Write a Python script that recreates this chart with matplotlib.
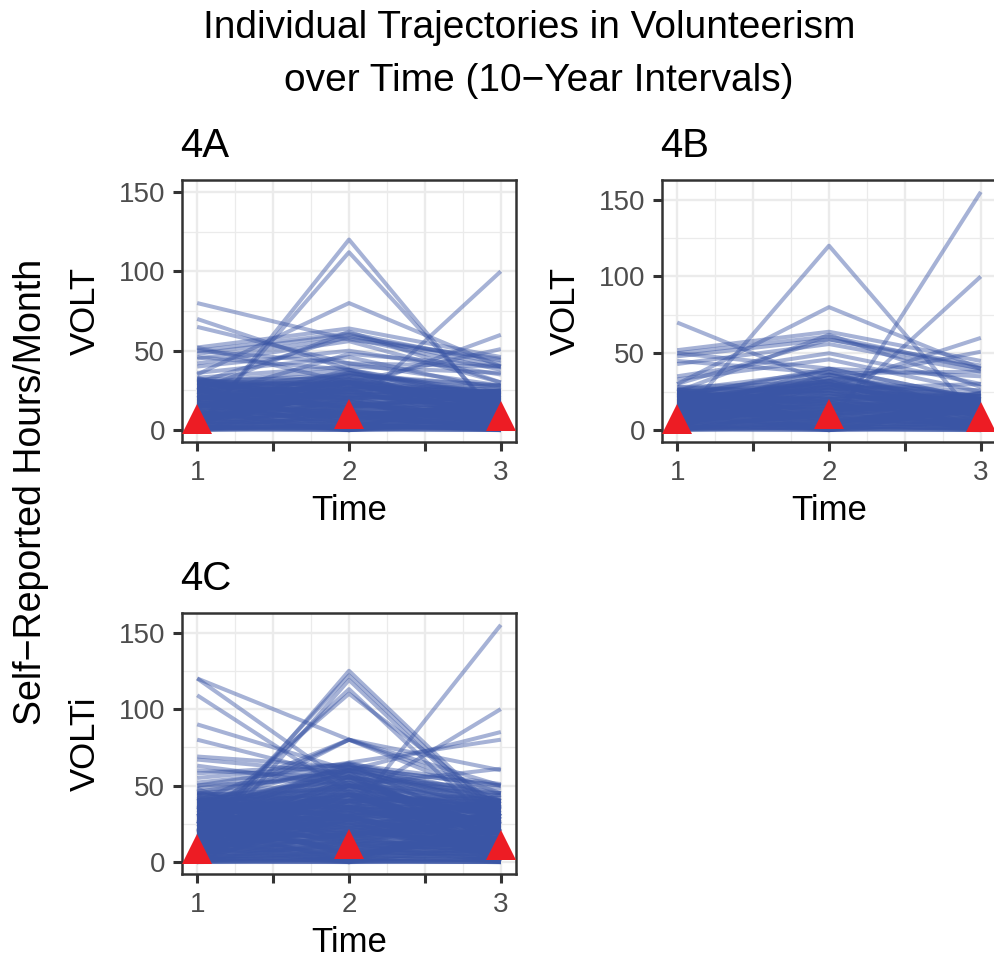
import matplotlib
matplotlib.use("Agg")
import matplotlib.pyplot as plt
from matplotlib.ticker import FixedLocator

plt.rcParams['font.family'] = ['Liberation Sans', 'DejaVu Sans']

# Time points
times = [1, 2, 3]

# Individual trajectories (VOLT at time 1, 2, 3)
# 4A: the few lines standing out above the dense band
traj_4a_high = [
    (80, 57, 45), (70, 38, 22), (65, 42, 28), (0, 120, 5), (2, 112, 8),
    (35, 80, 40), (10, 12, 100), (15, 25, 60), (20, 30, 51), (52, 64, 46),
    (50, 61, 42), (48, 60, 40), (45, 58, 38), (42, 56, 30), (40, 50, 35),
    (36, 46, 25), (52, 30, 20), (50, 42, 40), (46, 38, 20), (30, 59, 44),
    (25, 62, 30), (20, 48, 40), (33, 40, 36), (30, 35, 28),
]
# 4A: dense band near zero
traj_4a_low = [
    (0, 0, 0), (0, 5, 0), (0, 10, 2), (0, 20, 5), (1, 3, 0), (2, 15, 10), (2, 0, 4),
    (3, 8, 12), (4, 25, 6), (4, 2, 15), (5, 12, 0), (5, 30, 8), (5, 6, 20), (6, 18, 3),
    (7, 0, 10), (8, 22, 14), (8, 10, 0), (9, 28, 18), (10, 4, 6), (10, 15, 22),
    (10, 35, 12), (11, 8, 2), (12, 20, 25), (12, 0, 8), (13, 26, 16), (14, 12, 4),
    (15, 32, 20), (15, 5, 10), (15, 18, 0), (16, 24, 24), (17, 10, 14), (18, 30, 6),
    (18, 2, 18), (19, 16, 10), (20, 34, 22), (20, 8, 2), (20, 22, 16), (21, 14, 8),
    (22, 28, 20), (22, 0, 12), (23, 20, 5), (24, 36, 24), (25, 10, 15), (25, 26, 0),
    (25, 16, 20), (26, 32, 10), (27, 6, 18), (28, 24, 12), (28, 14, 25), (29, 30, 4),
    (30, 20, 22), (30, 38, 15), (30, 12, 8), (31, 28, 20), (32, 22, 25), (0, 30, 15),
    (3, 36, 22), (6, 32, 18), (9, 0, 25), (14, 38, 2), (20, 26, 28), (24, 4, 0),
    (28, 34, 28), (32, 18, 5),
    (2, 2, 2), (4, 4, 4), (6, 6, 6), (8, 8, 8), (10, 10, 10), (12, 12, 12), (14, 14, 14),
    (16, 16, 16), (18, 18, 18), (20, 20, 20), (22, 22, 22), (24, 24, 24), (26, 26, 26),
    (28, 28, 20), (30, 30, 18), (1, 1, 0), (3, 3, 1), (5, 5, 3), (7, 7, 5), (9, 9, 7),
    (11, 11, 9), (13, 13, 11), (15, 15, 13), (17, 17, 15), (19, 19, 17), (21, 21, 19),
    (23, 23, 21), (25, 25, 23), (27, 27, 22), (29, 29, 16), (0, 12, 6), (12, 0, 6),
    (6, 24, 12), (24, 6, 12), (18, 30, 9), (30, 18, 3), (3, 27, 24), (27, 3, 21),
    (9, 33, 15), (33, 9, 7), (15, 21, 11), (21, 15, 17), (0, 2, 1), (1, 0, 2), (2, 1, 0),
    (16, 36, 20), (32, 32, 14), (26, 30, 24),
]
mean_4a = [7, 10.3, 8.6]

# 4B
traj_4b_high = [
    (70, 30, 20), (5, 120, 5), (30, 80, 40), (8, 0, 155), (10, 10, 100),
    (15, 28, 60), (20, 32, 51), (52, 64, 45), (50, 61, 40), (48, 59, 42),
    (43, 56, 38), (35, 50, 30), (33, 46, 25), (50, 40, 20), (45, 37, 38),
    (30, 59, 40), (25, 62, 28), (22, 40, 35), (28, 31, 22), (20, 27, 30),
]
traj_4b_low = [
    (0, 0, 0), (0, 6, 4), (0, 14, 0), (0, 24, 10), (1, 2, 18), (2, 10, 6), (2, 30, 12),
    (3, 4, 20), (4, 18, 2), (4, 0, 14), (5, 26, 8), (5, 8, 0), (6, 14, 16), (6, 32, 4),
    (7, 2, 22), (8, 20, 10), (8, 10, 18), (9, 28, 0), (10, 4, 12), (10, 16, 20),
    (10, 34, 6), (11, 0, 14), (12, 22, 2), (12, 12, 24), (13, 30, 10), (14, 6, 16),
    (14, 18, 0), (15, 26, 20), (15, 2, 8), (15, 36, 14), (16, 10, 4), (17, 22, 22),
    (18, 14, 12), (18, 32, 0), (19, 4, 18), (20, 24, 8), (20, 8, 24), (20, 18, 14),
    (21, 30, 2), (22, 12, 20), (22, 26, 10), (23, 0, 16), (24, 20, 6), (24, 34, 22),
    (25, 6, 12), (25, 16, 0), (25, 28, 18), (26, 38, 8), (27, 10, 24), (28, 24, 14),
    (18, 0, 6), (3, 20, 24), (7, 36, 16), (12, 40, 20), (16, 28, 26), (21, 4, 0),
    (23, 38, 12), (26, 18, 4), (9, 16, 10), (13, 8, 2),
    (2, 2, 2), (4, 4, 4), (6, 6, 6), (8, 8, 8), (10, 10, 10), (12, 12, 12), (14, 14, 14),
    (16, 16, 16), (18, 18, 18), (20, 20, 20), (22, 22, 20), (24, 24, 18), (26, 28, 16),
    (1, 1, 0), (3, 3, 1), (5, 5, 3), (7, 7, 5), (9, 9, 7), (11, 11, 9), (13, 13, 11),
    (15, 15, 13), (17, 17, 15), (19, 19, 17), (21, 21, 19), (23, 26, 21), (25, 30, 22),
    (0, 12, 6), (12, 0, 6), (6, 24, 12), (24, 6, 12), (18, 30, 9), (3, 27, 20),
    (9, 33, 15), (15, 21, 11), (21, 15, 17), (0, 2, 1), (1, 0, 2), (2, 1, 0),
    (16, 36, 20), (20, 32, 14),
]
mean_4b = [7.2, 10.5, 8.5]

# 4C
traj_4c_high = [
    (120, 80, 60), (120, 50, 30), (109, 45, 25), (90, 60, 40), (80, 55, 45),
    (69, 62, 50), (67, 58, 35), (63, 50, 40), (60, 55, 30), (58, 64, 40),
    (10, 125, 30), (15, 122, 28), (5, 119, 25), (20, 113, 20), (25, 110, 35),
    (30, 80, 50), (35, 80, 45), (40, 80, 40), (20, 30, 155), (30, 40, 100),
    (45, 60, 85), (50, 65, 80), (40, 50, 61), (55, 64, 51), (52, 62, 50),
    (48, 60, 45), (50, 55, 48), (45, 52, 38), (25, 65, 42), (30, 63, 36),
]
traj_4c_low = [
    (0, 0, 0), (0, 8, 3), (0, 20, 10), (0, 35, 18), (0, 50, 5), (1, 4, 25), (2, 12, 0),
    (2, 28, 14), (3, 45, 30), (3, 6, 8), (4, 18, 22), (4, 40, 2), (5, 0, 12), (5, 24, 35),
    (5, 55, 20), (6, 10, 6), (6, 32, 28), (7, 2, 16), (7, 48, 4), (8, 14, 38), (8, 26, 10),
    (9, 38, 24), (9, 6, 0), (10, 20, 32), (10, 52, 14), (10, 0, 26), (11, 30, 8),
    (11, 16, 40), (12, 44, 18), (12, 8, 2), (13, 22, 30), (13, 36, 12), (14, 2, 22),
    (14, 58, 6), (15, 28, 36), (15, 12, 16), (15, 46, 0), (16, 18, 28), (16, 34, 10),
    (17, 4, 20), (17, 50, 34), (18, 26, 4), (18, 40, 24), (19, 10, 14), (19, 60, 38),
    (20, 32, 0), (20, 16, 30), (20, 54, 18), (21, 2, 8), (21, 42, 26), (22, 22, 40),
    (22, 36, 12), (23, 8, 22), (23, 62, 32), (24, 30, 2), (24, 46, 16), (25, 14, 28),
    (25, 56, 10), (25, 0, 36), (26, 38, 20), (26, 24, 6), (27, 50, 30), (27, 6, 14),
    (28, 34, 24), (28, 18, 0), (29, 60, 38), (29, 44, 10), (30, 12, 32), (30, 28, 18),
    (30, 52, 4), (31, 40, 26), (31, 20, 12), (32, 56, 36), (32, 4, 22), (33, 32, 8),
    (33, 48, 30), (34, 16, 16), (34, 62, 40), (35, 26, 2), (35, 42, 24), (36, 10, 34),
    (36, 58, 14), (37, 36, 20), (37, 22, 6), (38, 50, 28), (38, 30, 38), (39, 14, 10),
    (39, 64, 18), (40, 44, 32), (40, 24, 0), (41, 54, 22), (42, 34, 12), (43, 18, 26),
    (44, 46, 36), (45, 28, 16), (46, 60, 30),
    (2, 2, 2), (4, 4, 4), (6, 6, 6), (8, 8, 8), (10, 10, 10), (12, 12, 12), (14, 14, 14),
    (16, 16, 16), (18, 18, 18), (20, 20, 20), (22, 22, 22), (24, 24, 24), (26, 26, 26),
    (28, 28, 28), (30, 30, 30), (32, 32, 32), (34, 34, 34), (36, 36, 36), (38, 38, 38),
    (40, 40, 40), (42, 44, 36), (44, 48, 30), (1, 1, 0), (3, 3, 1), (5, 5, 3), (7, 7, 5),
    (9, 9, 7), (11, 11, 9), (13, 13, 11), (15, 15, 13), (17, 17, 15), (19, 19, 17),
    (21, 21, 19), (23, 23, 21), (25, 25, 23), (27, 27, 25), (29, 29, 27), (31, 31, 29),
    (33, 33, 31), (35, 35, 33), (37, 37, 35), (39, 39, 37), (41, 42, 39), (0, 14, 7),
    (14, 0, 7), (7, 28, 14), (28, 7, 14), (21, 42, 21), (42, 21, 14), (4, 36, 28),
    (36, 4, 20), (12, 48, 24), (48, 12, 8), (18, 30, 40), (30, 18, 44), (24, 52, 34),
    (45, 40, 42), (10, 56, 20), (35, 58, 26), (26, 60, 12), (0, 2, 1), (1, 0, 2),
    (2, 1, 0), (0, 0, 0), (5, 45, 10), (40, 30, 5), (15, 50, 45), (30, 44, 2),
    (44, 36, 24), (8, 40, 44),
]
mean_4c = [8.7, 12.1, 11.4]

panels = [
    ("4A", "VOLT", traj_4a_low + traj_4a_high, mean_4a, (-7.5, 157.5)),
    ("4B", "VOLT", traj_4b_low + traj_4b_high, mean_4b, (-7.75, 162.75)),
    ("4C", "VOLTi", traj_4c_low + traj_4c_high, mean_4c, (-7.75, 162.75)),
]

line_color = "#3A55A5"
mean_color = "#ED1C24"
grid_color = "#EBEBEB"
frame_color = "#333333"

W, H = 995, 961
fig = plt.figure(figsize=(W / 100, H / 100), dpi=100)

# axes boxes in pixels: left, top, right, bottom
boxes = [(182, 180, 516, 442), (662, 180, 996, 442), (182, 613, 516, 874)]

for (name, ylab, trajs, means, ylim), (l, t, r, b) in zip(panels, boxes):
    ax = fig.add_axes([l / W, 1 - b / H, (r - l) / W, (b - t) / H])
    for tr in trajs:
        ax.plot(times, tr, color=line_color, alpha=0.45, lw=2.9,
                solid_capstyle="butt", zorder=2)
    ax.plot(times, means, linestyle="none", marker="^", markersize=21.5,
            color=mean_color, markeredgewidth=0, zorder=3)

    ax.set_xlim(0.9, 3.1)
    ax.set_ylim(*ylim)
    ax.xaxis.set_major_locator(FixedLocator([1, 1.5, 2, 2.5, 3]))
    ax.xaxis.set_minor_locator(FixedLocator([1.25, 1.75, 2.25, 2.75]))
    ax.set_xticklabels(["1", "", "2", "", "3"])
    ax.yaxis.set_major_locator(FixedLocator([0, 50, 100, 150]))
    ax.yaxis.set_minor_locator(FixedLocator([25, 75, 125]))
    ax.grid(which="major", color=grid_color, lw=1.7, zorder=0)
    ax.grid(which="minor", color=grid_color, lw=0.9, zorder=0)
    ax.set_axisbelow(True)
    ax.tick_params(which="major", length=6.5, width=2.2, color=frame_color,
                   labelsize=20, labelcolor="#4D4D4D")
    ax.tick_params(axis="y", which="major", pad=5.5)
    ax.tick_params(axis="x", which="major", pad=6.5)
    ax.tick_params(which="minor", length=0)
    for sp in ax.spines.values():
        sp.set_color(frame_color)
        sp.set_linewidth(1.8)
    ax.set_xlabel("Time", fontsize=25, labelpad=6)
    ax.set_ylabel(ylab, fontsize=25, labelpad=12)
    ax.set_title(name, fontsize=29, loc="left", pad=16.5, x=-0.005)

fig.text(529 / W, 1 - 28 / H, "Individual Trajectories in Volunteerism",
         ha="center", va="center", fontsize=28)
fig.text(539 / W, 1 - 81 / H, "over Time (10\u2212Year Intervals)",
         ha="center", va="center", fontsize=28)
fig.text(31 / W, 1 - 492 / H, "Self\u2212Reported Hours/Month", rotation=90,
         ha="center", va="center", fontsize=27)

fig.savefig("out.png", dpi=100)
